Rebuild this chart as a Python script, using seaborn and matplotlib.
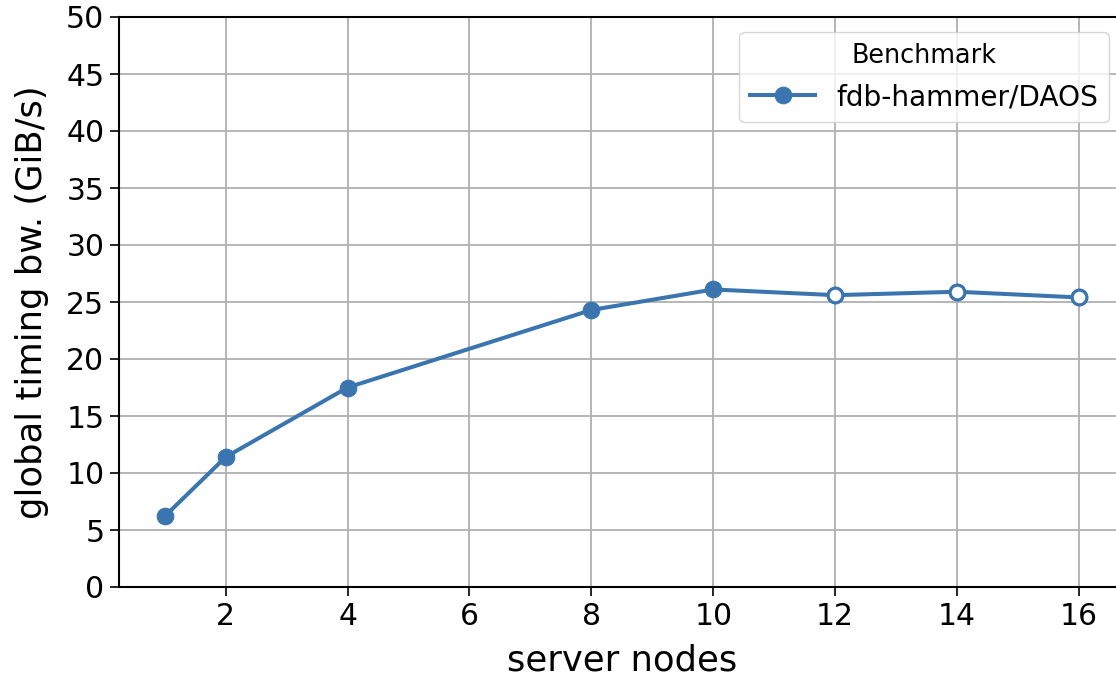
import matplotlib
matplotlib.use("Agg")
import matplotlib.pyplot as plt
import seaborn as sns
import pandas as pd

server_nodes = [1, 2, 4, 8, 10, 12, 14, 16]
bandwidth = [6.2, 11.4, 17.5, 24.3, 26.1, 25.6, 25.9, 25.4]
hollow = [False, False, False, False, False, True, True, True]
benchmark = "fdb-hammer/DAOS"
x_ticks = [2, 4, 6, 8, 10, 12, 14, 16]
y_ticks = [0, 5, 10, 15, 20, 25, 30, 35, 40, 45, 50]

df = pd.DataFrame({"server nodes": server_nodes, "bw": bandwidth,
                   "hollow": hollow, "Benchmark": benchmark})

color = "#3A75B0"
W, H = 1116, 681
fig = plt.figure(figsize=(W / 100, H / 100), dpi=100)
left, bottom, top = 119 / W, (H - 587) / H, (H - 17) / H
right = 1124.7 / W
ax = fig.add_axes([left, bottom, right - left, top - bottom])

sns.lineplot(data=df, x="server nodes", y="bw", hue="Benchmark",
             palette=[color], marker="o", markersize=12, linewidth=2.9,
             markeredgecolor=color, ax=ax, legend=True)
hd = df[df["hollow"]]
ax.plot(hd["server nodes"], hd["bw"], linestyle="none", marker="o",
        markersize=10.5, markerfacecolor="white", markeredgecolor=color,
        markeredgewidth=2.2, zorder=5)

ax.set_xlim(0.25, 16.75)
ax.set_ylim(0, 50)
ax.set_xticks(x_ticks)
ax.set_yticks(y_ticks)
ax.grid(True, color="#b0b0b0", linewidth=1.3)
ax.set_axisbelow(True)
ax.tick_params(labelsize=21.5, length=6.5, width=1.2, colors="black", pad=4)
for s in ax.spines.values():
    s.set_color("black")
    s.set_linewidth(1.5)
ax.set_xlabel("server nodes", fontsize=25.5, labelpad=9)
ax.set_ylabel("global timing bw. (GiB/s)", fontsize=25.5, labelpad=12)

handles, labels = ax.get_legend_handles_labels()
leg = ax.legend(handles, labels, title="Benchmark", fontsize=20.2,
                title_fontsize=18.4, loc="upper right",
                bbox_to_anchor=(1109 / W, 1 - 32 / H),
                bbox_transform=fig.transFigure, borderaxespad=0,
                frameon=True, fancybox=True, handlelength=2.3,
                handletextpad=0.75, labelspacing=0.5)
leg.get_frame().set_edgecolor("#cccccc")

fig.savefig("out.png", dpi=100)
